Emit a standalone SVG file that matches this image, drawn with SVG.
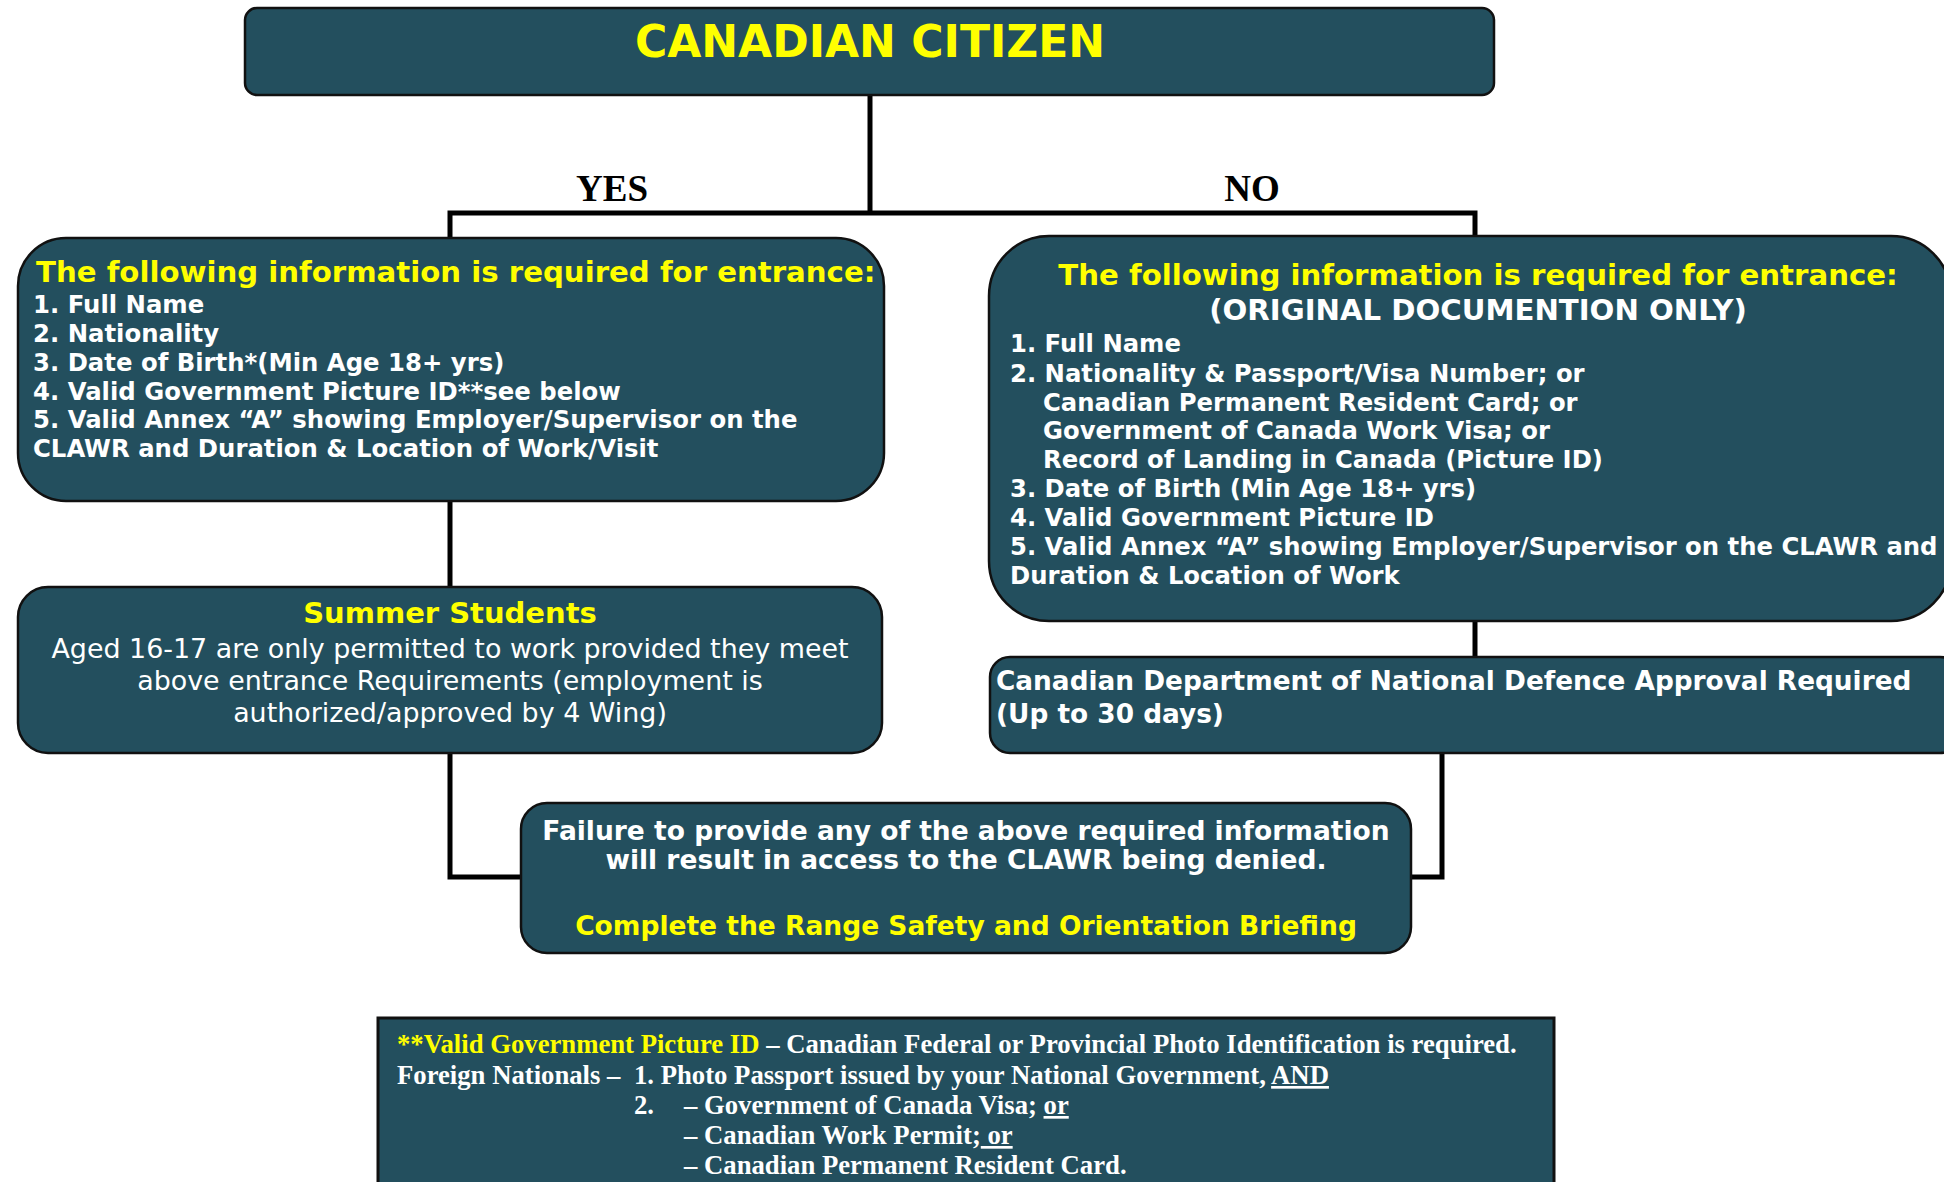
<svg xmlns="http://www.w3.org/2000/svg" width="1944" height="1182" viewBox="0 0 1944 1182">
<style>
.box{fill:#234f5e;stroke:#111;stroke-width:2.5}
.conn{fill:none;stroke:#000;stroke-width:5}
.b{font-family:"DejaVu Sans",Verdana,sans-serif;font-weight:bold}
.r{font-family:"DejaVu Sans",Verdana,sans-serif}
.y{fill:#ffff00}
.w{fill:#ffffff}
.tm{font-family:"Liberation Serif","Times New Roman",serif;font-weight:bold}
.u{text-decoration:underline}
</style>
<rect width="1944" height="1182" fill="#ffffff"/>
<g id="connectors">
<path class="conn" d="M870 95 V214" stroke-width="4"/>
<path class="conn" d="M450 240 V213 H1475 V236"/>
<path class="conn" d="M450 501 V587"/>
<path class="conn" d="M450 753 V877 H522"/>
<path class="conn" d="M1475 621 V657"/>
<path class="conn" d="M1442 753 V877 H1411"/>
</g>
<g id="label-yes"><text class="tm" x="612" y="201" font-size="37" text-anchor="middle" fill="#000">YES</text></g>
<g id="label-no"><text class="tm" x="1252" y="201" font-size="37" text-anchor="middle" fill="#000">NO</text></g>
<g id="canadian-citizen">
<rect class="box" x="245" y="8" width="1249" height="87" rx="12"/>
<text class="b y" x="870" y="57" font-size="44" text-anchor="middle">CANADIAN CITIZEN</text>
</g>
<g id="yes-requirements">
<rect class="box" x="18" y="238" width="866" height="263" rx="48"/>
<text class="b y" x="36" y="282" font-size="29.2">The following information is required for entrance:</text>
<g class="b w" font-size="24.35">
<text x="33" y="313">1. Full Name</text>
<text x="33" y="342">2. Nationality</text>
<text x="33" y="371">3. Date of Birth*(Min Age 18+ yrs)</text>
<text x="33" y="400">4. Valid Government Picture ID**see below</text>
<text x="33" y="428">5. Valid Annex “A” showing Employer/Supervisor on the</text>
<text x="33" y="457">CLAWR and Duration &amp; Location of Work/Visit</text>
</g>
</g>
<g id="no-requirements">
<rect class="box" x="989" y="236" width="962" height="385" rx="60"/>
<text class="b y" x="1478" y="285" font-size="29.2" text-anchor="middle">The following information is required for entrance:</text>
<text class="b w" x="1478" y="320" font-size="29.2" text-anchor="middle">(ORIGINAL DOCUMENTION ONLY)</text>
<g class="b w" font-size="24.3">
<text x="1010" y="352">1. Full Name</text>
<text x="1010" y="382">2. Nationality &amp; Passport/Visa Number; or</text>
<text x="1043" y="411">Canadian Permanent Resident Card; or</text>
<text x="1043" y="439">Government of Canada Work Visa; or</text>
<text x="1043" y="468">Record of Landing in Canada (Picture ID)</text>
<text x="1010" y="497">3. Date of Birth (Min Age 18+ yrs)</text>
<text x="1010" y="526">4. Valid Government Picture ID</text>
<text x="1010" y="555">5. Valid Annex “A” showing Employer/Supervisor on the CLAWR and</text>
<text x="1010" y="584">Duration &amp; Location of Work</text>
</g>
</g>
<g id="summer-students">
<rect class="box" x="18" y="587" width="864" height="166" rx="30"/>
<text class="b y" x="450" y="623" font-size="29" text-anchor="middle">Summer Students</text>
<g class="r w" font-size="26.9" text-anchor="middle">
<text x="450" y="658">Aged 16-17 are only permitted to work provided they meet</text>
<text x="450" y="690">above entrance Requirements (employment is</text>
<text x="450" y="722">authorized/approved by 4 Wing)</text>
</g>
</g>
<g id="dnd-approval">
<rect class="box" x="990" y="657" width="970" height="96" rx="20"/>
<g class="b w" font-size="26.35">
<text x="996" y="690">Canadian Department of National Defence Approval Required</text>
<text x="996" y="723">(Up to 30 days)</text>
</g>
</g>
<g id="failure-notice">
<rect class="box" x="521" y="803" width="890" height="150" rx="26"/>
<g class="b" font-size="26.5" text-anchor="middle">
<text class="w" x="966" y="840">Failure to provide any of the above required information</text>
<text class="w" x="966" y="869">will result in access to the CLAWR being denied.</text>
<text class="y" x="966" y="935">Complete the Range Safety and Orientation Briefing</text>
</g>
</g>
<g id="footnote">
<rect x="378" y="1018" width="1176" height="200" fill="#234f5e" stroke="#111" stroke-width="3"/>
<g class="tm w" font-size="26.7">
<text x="397" y="1053"><tspan class="y">**Valid Government Picture ID</tspan> – Canadian Federal or Provincial Photo Identification is required.</text>
<text x="397" y="1084">Foreign Nationals –</text>
<text x="634" y="1084">1. Photo Passport issued by your National Government, <tspan class="u">AND</tspan></text>
<text x="634" y="1114">2.</text>
<text x="684" y="1114">– Government of Canada Visa; <tspan class="u">or</tspan></text>
<text x="684" y="1144">– Canadian Work Permit;<tspan class="u"> or</tspan></text>
<text x="684" y="1174">– Canadian Permanent Resident Card.</text>
</g>
</g>
</svg>
